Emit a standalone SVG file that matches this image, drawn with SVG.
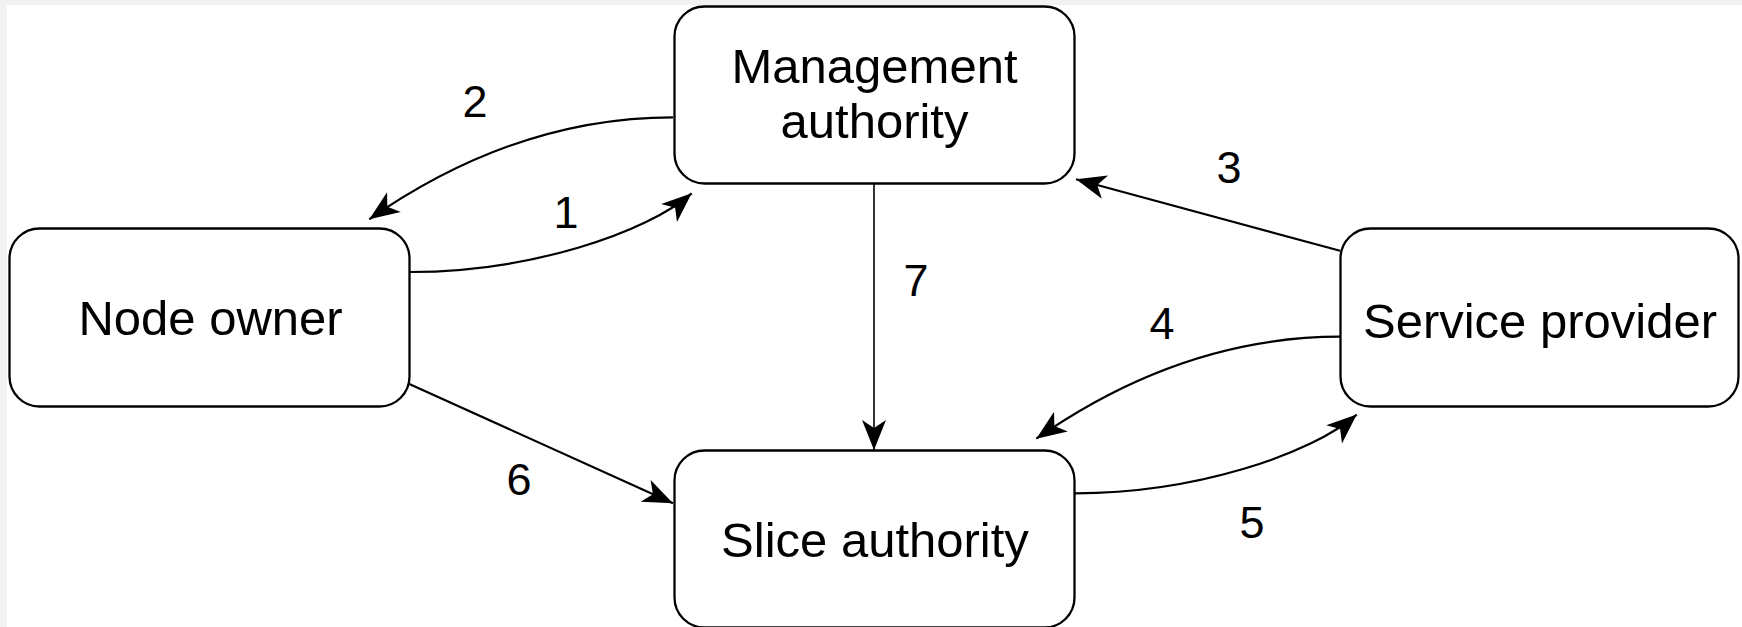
<svg xmlns="http://www.w3.org/2000/svg" width="1742" height="627" viewBox="0 0 1742 627">
<style>
.node rect{fill:#ffffff;stroke:#000000;stroke-width:2.3}
.node text{font-family:"Liberation Sans",Arial,Helvetica,sans-serif;font-size:49px;fill:#000000;text-anchor:middle}
.edge{fill:none;stroke:#000000;stroke-width:2.2;marker-end:url(#arrow)}
.thin{stroke-width:1.6}
.lbl{font-family:"Liberation Sans",Arial,Helvetica,sans-serif;font-size:45px;fill:#000000;text-anchor:middle}
</style>
<defs>
<marker id="arrow" markerUnits="userSpaceOnUse" viewBox="-32 -14 34 28" refX="0" refY="0" markerWidth="34" markerHeight="28" orient="auto">
<path d="M0,0 L-30,-12 L-22,0 L-30,12 Z" fill="#000000"/>
</marker>
</defs>
<rect x="0" y="0" width="1742" height="627" fill="#f2f2f2"/>
<rect x="7" y="5" width="1735" height="622" fill="#ffffff"/>
<g id="connectors">
<path id="e1" class="edge" d="M410,272 C530,272 646.5,232.8 691.7,193.3"/>
<path id="e2" class="edge" d="M673,117.3 C543,117.3 440,170 369.3,219.3"/>
<path id="e3" class="edge" d="M1340,250.7 L1076,179.3"/>
<path id="e4" class="edge" d="M1340,336.7 C1210,336.7 1107,389.4 1036.3,438.7"/>
<path id="e5" class="edge" d="M1075,493.3 C1195,493.3 1311.5,454.1 1356.7,414.6"/>
<path id="e6" class="edge" d="M409.3,384 L673,503.3"/>
<path id="e7" class="edge thin" d="M874,183 L874,450"/>
<text class="lbl" x="566" y="228">1</text>
<text class="lbl" x="475" y="117">2</text>
<text class="lbl" x="1229" y="183">3</text>
<text class="lbl" x="1162" y="339">4</text>
<text class="lbl" x="1252" y="538">5</text>
<text class="lbl" x="519" y="495">6</text>
<text class="lbl" x="916" y="296">7</text>
</g>
<g id="management-authority" class="node">
<rect x="674.5" y="6.5" width="400" height="177" rx="30" ry="30"/>
<text x="874.5" y="83">Management</text>
<text x="874.5" y="138">authority</text>
</g>
<g id="node-owner" class="node">
<rect x="9.5" y="228.5" width="400" height="178" rx="30" ry="30"/>
<text x="210.5" y="335">Node owner</text>
</g>
<g id="service-provider" class="node">
<rect x="1340.5" y="228.5" width="398" height="178" rx="30" ry="30"/>
<text x="1540" y="338">Service provider</text>
</g>
<g id="slice-authority" class="node">
<rect x="674.5" y="450.5" width="400" height="177" rx="30" ry="30"/>
<text x="875" y="556.5">Slice authority</text>
</g>
</svg>
